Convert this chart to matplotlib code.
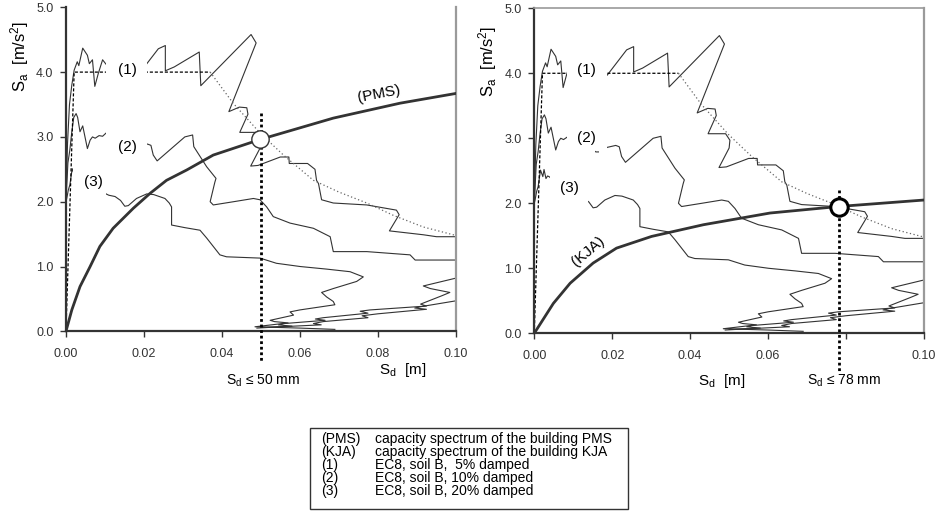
#Capacity spectrum method - PMS and KJA buildings against EC8 soil B demand spectra

import numpy as np
import matplotlib
matplotlib.use('Agg')
import matplotlib.pyplot as plt
from matplotlib.patches import Rectangle

#Step0. fonts
plt.rcParams['font.family'] = ['Liberation Sans', 'DejaVu Sans']
plt.rcParams['mathtext.default'] = 'regular'

#Step1. data (Sd in m, Sa in m/s2)

#demand spectrum (1), 5% damped
sd1 = [0.0, 0.0004, 0.0009, 0.0015, 0.0021, 0.0029, 0.0033, 0.0043, 0.0055, 0.0060,
       0.0068, 0.0074, 0.0083, 0.0094, 0.0103, 0.0125, 0.0150, 0.0187, 0.0237, 0.0255,
       0.0255, 0.0278, 0.0342, 0.0346, 0.0475, 0.0488, 0.0418, 0.0445, 0.0464, 0.0467,
       0.0446, 0.0491, 0.0502, 0.0500, 0.0474, 0.0493, 0.0550, 0.0572, 0.0573, 0.0620,
       0.0639, 0.0643, 0.0648, 0.0656, 0.0686, 0.0772, 0.0848, 0.0855, 0.0830, 0.0917,
       0.0951, 0.1000]
sa1 = [2.00, 2.90, 3.50, 3.80, 4.03, 4.16, 4.10, 4.37, 4.26, 4.13,
       4.19, 3.78, 3.98, 4.19, 4.12, 4.05, 3.98, 3.97, 4.36, 4.41,
       4.02, 4.08, 4.31, 3.79, 4.58, 4.45, 3.39, 3.46, 3.45, 3.35,
       3.07, 3.07, 2.97, 2.85, 2.55, 2.56, 2.69, 2.69, 2.59, 2.59,
       2.50, 2.33, 2.28, 2.03, 1.98, 1.95, 1.87, 1.80, 1.55, 1.49,
       1.46, 1.46]
#long period part of (1), coming back into the plot
sd1_tail = [0.1000, 0.0917, 0.0935, 0.0985, 0.0965, 0.0910, 0.0925, 0.0780, 0.0755, 0.0775,
            0.0660, 0.0640, 0.0665, 0.0560, 0.0545, 0.0580, 0.0500]
sa1_tail = [0.82, 0.70, 0.66, 0.60, 0.55, 0.42, 0.39, 0.33, 0.31, 0.28,
            0.21, 0.19, 0.17, 0.12, 0.10, 0.08, 0.06]

#demand spectrum (2), 10% damped
sd2 = [0.0, 0.0005, 0.0010, 0.0015, 0.0020, 0.0026, 0.0030, 0.0036, 0.0043, 0.0055,
       0.0062, 0.0068, 0.0075, 0.0085, 0.0094, 0.0103, 0.0130, 0.0158, 0.0166, 0.0187,
       0.0209, 0.0218, 0.0224, 0.0234, 0.0305, 0.0325, 0.0328, 0.0361, 0.0385, 0.0382,
       0.0374, 0.0370, 0.0378, 0.0430, 0.0481, 0.0498, 0.0515, 0.0532, 0.0575, 0.0635,
       0.0678, 0.0686, 0.0772, 0.0883, 0.0896, 0.1000]
sa2 = [2.00, 2.60, 2.80, 3.08, 3.30, 3.36, 3.30, 3.08, 3.17, 2.82,
       2.95, 3.00, 2.98, 3.02, 3.01, 3.06, 2.90, 2.79, 2.79, 2.86,
       2.89, 2.87, 2.72, 2.63, 3.00, 3.03, 2.85, 2.54, 2.36, 2.30,
       2.10, 2.00, 1.95, 2.00, 2.05, 2.03, 1.92, 1.77, 1.67, 1.59,
       1.46, 1.23, 1.23, 1.18, 1.10, 1.10]
sd2_tail = [0.1000, 0.0910, 0.0895, 0.0925, 0.0800, 0.0760, 0.0775, 0.0660, 0.0635, 0.0655,
            0.0550, 0.0490]
sa2_tail = [0.47, 0.38, 0.36, 0.34, 0.27, 0.24, 0.21, 0.15, 0.12, 0.10,
            0.07, 0.05]

#demand spectrum (3), 20% damped
sd3 = [0.0, 0.0002, 0.0006, 0.0010, 0.0016, 0.0022, 0.0025, 0.0030, 0.0034, 0.0038,
       0.0060, 0.0090, 0.0103, 0.0110, 0.0126, 0.0140, 0.0151, 0.0160, 0.0181, 0.0207,
       0.0225, 0.0254, 0.0265, 0.0271, 0.0271, 0.0305, 0.0344, 0.0361, 0.0395, 0.0412,
       0.0498, 0.0540, 0.0601, 0.0669, 0.0729, 0.0763, 0.0746, 0.0686, 0.0656, 0.0669,
       0.0686, 0.0690, 0.0600, 0.0575, 0.0584, 0.0524, 0.0535, 0.0570, 0.0485, 0.0600,
       0.0690]
sa3 = [2.00, 2.05, 2.18, 2.26, 2.51, 2.41, 2.52, 2.38, 2.42, 2.41,
       2.30, 2.20, 2.12, 2.10, 2.08, 2.02, 1.93, 1.94, 2.05, 2.12,
       2.11, 2.05, 1.98, 1.92, 1.64, 1.60, 1.56, 1.44, 1.18, 1.15,
       1.13, 1.05, 1.00, 0.96, 0.92, 0.84, 0.77, 0.66, 0.60, 0.53,
       0.46, 0.41, 0.33, 0.30, 0.25, 0.17, 0.15, 0.13, 0.07, 0.05,
       0.03]

#EC8 design spectrum 5%: rising + plateau (dashed) and constant velocity branch (dotted)
ec8_sd = [0.0, 0.0021, 0.0370]
ec8_sa = [0.0, 4.00, 4.00]
ec8v_sd = [0.0370, 0.0429, 0.0498, 0.0558, 0.0635, 0.0700, 0.0772, 0.0840, 0.0917, 0.1000]
ec8v_sa = [4.00, 3.52, 3.06, 2.72, 2.33, 2.15, 1.98, 1.79, 1.61, 1.48]

#capacity spectra
pms_sd = [0.0, 0.0015, 0.0036, 0.0062, 0.0087, 0.0121, 0.0173, 0.0216, 0.0258, 0.0310,
          0.0378, 0.0498, 0.0686, 0.0857, 0.1000]
pms_sa = [0.0, 0.33, 0.69, 1.00, 1.31, 1.59, 1.90, 2.13, 2.33, 2.49,
          2.72, 2.96, 3.29, 3.52, 3.67]
kja_sd = [0.0, 0.0049, 0.0092, 0.0151, 0.0211, 0.0301, 0.0434, 0.0605, 0.0780, 0.1000]
kja_sa = [0.0, 0.46, 0.77, 1.08, 1.31, 1.49, 1.67, 1.85, 1.95, 2.05]

#performance points
pms_point = (0.0498, 2.97)
kja_point = (0.0782, 1.95)

x_ticks = [0.00, 0.02, 0.04, 0.06, 0.08, 0.10]
y_ticks = [0.0, 1.0, 2.0, 3.0, 4.0, 5.0]

legend_keys = ['(PMS)', '(KJA)', '(1)', '(2)', '(3)']
legend_text = ['capacity spectrum of the building PMS',
               'capacity spectrum of the building KJA',
               'EC8, soil B,  5% damped',
               'EC8, soil B, 10% damped',
               'EC8, soil B, 20% damped']

dark = '#333333'
grey = '#9a9a9a'


def draw_demand(ax):
    '''draws the three damped demand spectra and the EC8 5% design line'''
    for sd, sa in [(sd1, sa1), (sd1_tail, sa1_tail), (sd2, sa2), (sd2_tail, sa2_tail), (sd3, sa3)]:
        ax.plot(sd, sa, color=dark, lw=0.8, zorder=2)
    ax.plot(ec8_sd, ec8_sa, color='black', lw=0.9, ls=(0, (2.5, 1.5)), zorder=2)
    ax.plot(ec8v_sd, ec8v_sa, color='#666666', lw=0.9, ls=(0, (1, 2)), zorder=2)


def label_gap(ax, x0, x1, y0, y1):
    '''white patch behind a curve label so the curves are broken there'''
    ax.add_patch(Rectangle((x0, y0), x1 - x0, y1 - y0, facecolor='white',
                           edgecolor='none', zorder=3))


def style_axes(ax, top_spine):
    ax.set_xlim(0, 0.10)
    ax.set_ylim(0, 5.0)
    ax.set_xticks(x_ticks)
    ax.set_yticks(y_ticks)
    ax.set_yticklabels(['%.1f' % v for v in y_ticks])
    ax.tick_params(direction='out', length=4, width=1, labelsize=9, colors=dark, pad=5)
    ax.tick_params(axis='x', pad=8)
    ax.spines['left'].set_color(dark)
    ax.spines['bottom'].set_color(dark)
    ax.spines['left'].set_linewidth(1.6)
    ax.spines['bottom'].set_linewidth(1.6)
    ax.spines['right'].set_color(grey)
    ax.spines['right'].set_linewidth(1.6)
    ax.spines['top'].set_color(grey)
    ax.spines['top'].set_linewidth(1.2)
    ax.spines['top'].set_visible(top_spine)


#Step2. figure
fig = plt.figure(figsize=(9.37, 5.14), dpi=100)
ax1 = fig.add_axes([0.0704, 0.3554, 0.4159, 0.6304])
ax2 = fig.add_axes([0.5702, 0.3516, 0.4159, 0.6323])

#Step3. left panel (PMS)
draw_demand(ax1)
ax1.plot(pms_sd, pms_sa, color=dark, lw=2.0, zorder=4)
label_gap(ax1, 0.0104, 0.0208, 3.80, 4.30)
label_gap(ax1, 0.0104, 0.0208, 2.70, 3.15)
label_gap(ax1, 0.0019, 0.0102, 1.96, 2.62)
ax1.text(0.0159, 4.03, '(1)', fontsize=11, ha='center', va='center', zorder=5)
ax1.text(0.0159, 2.84, '(2)', fontsize=11, ha='center', va='center', zorder=5)
ax1.text(0.0070, 2.31, '(3)', fontsize=11, ha='center', va='center', zorder=5)
ax1.text(0.0802, 3.66, '(PMS)', fontsize=11, ha='center', va='center', rotation=11, zorder=5)
ax1.plot([0.05, 0.05], [3.37, -0.47], color='black', lw=2.0, ls=(0, (1, 1)),
         clip_on=False, zorder=5)
ax1.plot(*pms_point, 'o', ms=12.5, mfc='white', mec=dark, mew=1.0, zorder=6)
style_axes(ax1, top_spine=False)
ax1.set_xticklabels(['%.2f' % v for v in x_ticks])

#Step4. right panel (KJA)
draw_demand(ax2)
ax2.plot(kja_sd, kja_sa, color=dark, lw=2.0, zorder=4)
label_gap(ax2, 0.0084, 0.0186, 3.80, 4.30)
label_gap(ax2, 0.0084, 0.0156, 2.70, 3.15)
label_gap(ax2, 0.0167, 0.0186, 2.70, 3.15)
label_gap(ax2, 0.0040, 0.0138, 1.96, 2.62)
ax2.text(0.01345, 4.05, '(1)', fontsize=11, ha='center', va='center', zorder=5)
ax2.text(0.01345, 3.00, '(2)', fontsize=11, ha='center', va='center', zorder=5)
ax2.text(0.0090, 2.23, '(3)', fontsize=11, ha='center', va='center', zorder=5)
ax2.text(0.0139, 1.26, '(KJA)', fontsize=11, ha='center', va='center', rotation=40, zorder=5)
ax2.plot([0.0782, 0.0782], [2.20, -0.60], color='black', lw=2.0, ls=(0, (1, 1)),
         clip_on=False, zorder=5)
ax2.plot(*kja_point, 'o', ms=12.5, mfc='white', mec='black', mew=2.2, zorder=6)
style_axes(ax2, top_spine=True)
ax2.set_xticklabels(['' if v == 0.08 else '%.2f' % v for v in x_ticks])

#Step5. axis titles and notes below the axes
for x, y in [(0.021, 0.89), (0.520, 0.88)]:
    fig.text(x, y, 'S$_a$  [m/s$^2$]', rotation=90, fontsize=12, ha='center', va='center')
fig.text(0.430, 0.280, 'S$_d$  [m]', fontsize=11, ha='center', va='center')
fig.text(0.7705, 0.259, 'S$_d$  [m]', fontsize=11, ha='center', va='center')
fig.text(0.2807, 0.259, 'S$_d$ \u2264 50 mm', fontsize=10, ha='center', va='center')
fig.text(0.9007, 0.259, 'S$_d$ \u2264 78 mm', fontsize=10, ha='center', va='center')

#Step6. legend box
fig.patches.append(Rectangle((310 / 937, 1 - 509 / 514), 318 / 937, 81 / 514,
                             transform=fig.transFigure, facecolor='white',
                             edgecolor=dark, lw=1.0))
for i in range(len(legend_keys)):
    y = 1 - (439 + 13 * i) / 514
    fig.text(321 / 937, y, legend_keys[i], fontsize=10, ha='left', va='center')
    fig.text(375 / 937, y, legend_text[i], fontsize=10, ha='left', va='center')

fig.savefig('out.png', dpi=100)
